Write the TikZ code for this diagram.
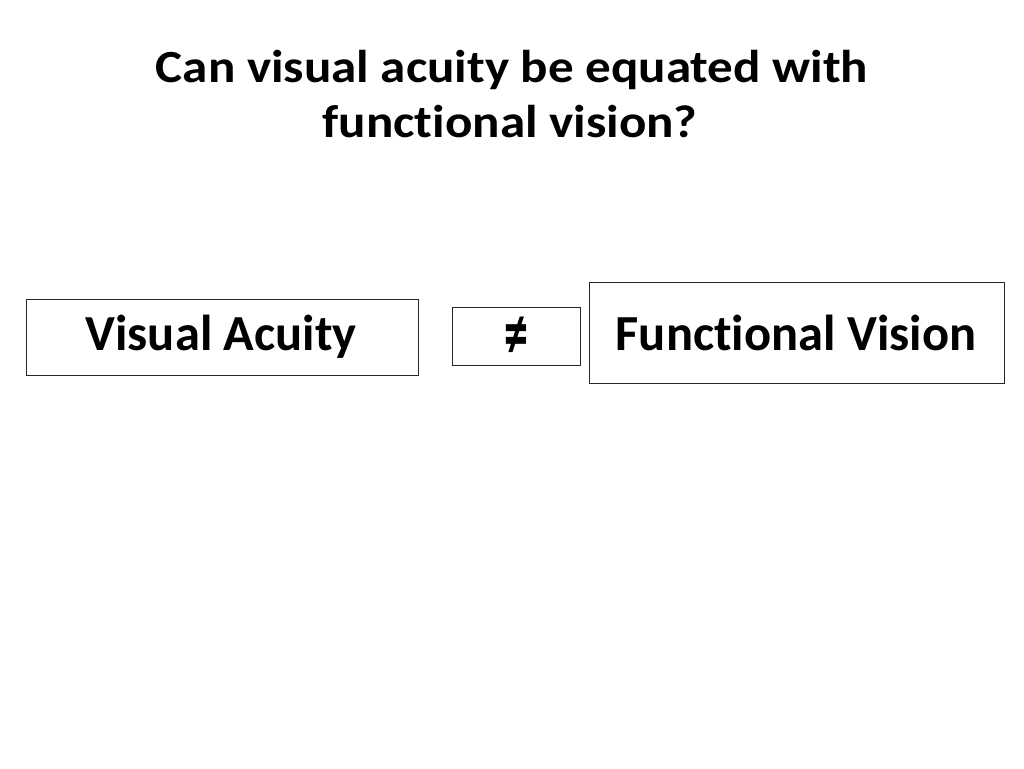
\documentclass[tikz,border=0pt]{standalone}
\usepackage{fontspec}
\setmainfont{Carlito}[Ligatures=NoCommon]
\newfontfamily\widefont{Carlito}[Ligatures=NoCommon,FakeStretch=1.11]
\begin{document}
\begin{tikzpicture}[x=1pt,y=-1pt,
  box/.style={draw=black!85,line width=1.2pt,inner sep=0pt,anchor=north west},
  lbl/.style={font=\fontsize{50.5}{60}\selectfont\bfseries,anchor=base,inner sep=0pt},
  ttl/.style={font=\widefont\fontsize{46}{55}\selectfont\bfseries,anchor=base,inner sep=0pt}]
\useasboundingbox[fill=white] (0,0) rectangle (1024,768);
\node[ttl] (title1) at (512,82) {Can visual acuity be equated with};
\node[ttl] (title2) at (510,137) {functional vision?};
\node[box,minimum width=392pt,minimum height=76pt] (va) at (26,299) {};
\node[lbl] (vat) at (221,350) {Visual Acuity};
\node[box,minimum width=128pt,minimum height=58pt] (ne) at (452,307) {};
\node[font=\fontsize{50.5}{60}\selectfont\bfseries,inner sep=0pt,anchor=center] (net) at (516,338) {\scalebox{0.95}[1.5]{≠}};
\node[box,minimum width=415pt,minimum height=101pt] (fv) at (589,282) {};
\node[lbl] (fvt) at (796,350) {Functional Vision};
\end{tikzpicture}
\end{document}
